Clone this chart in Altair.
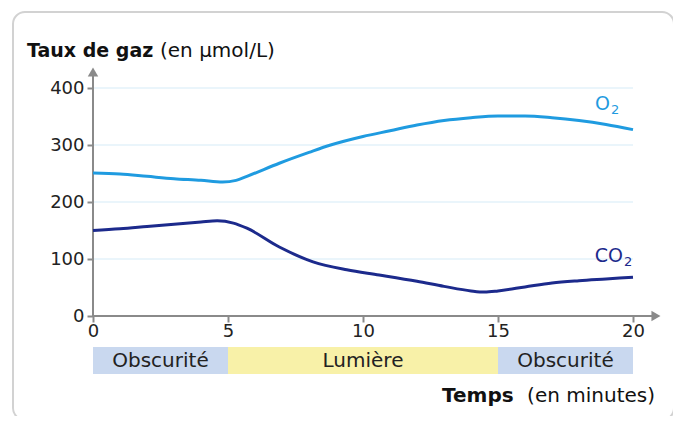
import altair as alt
import pandas as pd

# ---- data ----
o2_t = [0, 1, 2, 3, 4, 4.8, 5.3, 5.7, 6.9, 8, 8.8, 10, 11, 12, 13, 14, 15, 16, 17, 18, 19, 20]
o2_v = [251, 249, 245, 241, 238, 235, 238, 245, 268, 287, 300, 315, 325, 335, 343, 348, 351, 351, 348, 343, 336, 327]
co2_t = [0, 1, 2, 3, 4, 4.6, 5.2, 5.7, 6.9, 8.15, 9.4, 10.6, 12, 13, 14, 14.5, 15, 16, 17, 18, 19, 20]
co2_v = [150, 153, 157, 161, 165, 167, 163, 154, 121, 95, 81, 72, 61, 52, 44, 42, 44, 51, 58, 62, 65, 68]

periods = ["Obscurité", "Lumière", "Obscurité"]
period_start = [0, 5, 15]
period_end = [5, 15, 20]
period_color = ["#c9d8ef", "#f8f1a8", "#c9d8ef"]

x_ticks = [0, 5, 10, 15, 20]
y_ticks = [0, 50, 100, 150, 200, 250, 300, 350, 400]
grid_vals = [100, 200, 300, 400]

series_names = ["O", "CO"]
series_label_t = [19.15, 19.63]
series_label_v = [361, 95]

O2_COLOR = "#1f9be0"
CO2_COLOR = "#1c2a8c"
AXIS = "#8a8a8a"
FONT = "DejaVu Sans"
FS = 18

W, H = 540, 228
xs = alt.Scale(domain=[0, 20])
ys = alt.Scale(domain=[0, 400])

o2 = pd.DataFrame({"t": o2_t, "v": o2_v})
co2 = pd.DataFrame({"t": co2_t, "v": co2_v})
per = pd.DataFrame({"name": periods, "s": period_start, "e": period_end, "c": period_color})
per["m"] = (per["s"] + per["e"]) / 2
grid = pd.DataFrame({"g": grid_vals})

one = pd.DataFrame({"a": [0]})

frame = alt.Chart(one).mark_rect(
    fillOpacity=0, stroke="#d2d2d2", strokeWidth=2, cornerRadius=12
).encode(
    x=alt.value(-80), x2=alt.value(581), y=alt.value(-76), y2=alt.value(332)
)

grid_rules = alt.Chart(grid).mark_rule(color="#d6ebf8", strokeWidth=1.2).encode(
    y=alt.Y("g:Q", scale=ys), x=alt.value(0), x2=alt.value(W)
)

# axes (ticks and labels), no domain
base_axes = alt.Chart(one).mark_point(opacity=0).encode(
    x=alt.X("a:Q", scale=xs, axis=alt.Axis(
        values=x_ticks, title=None, domain=False, grid=False, tickColor=AXIS,
        tickWidth=2, tickSize=6, labelFontSize=FS, labelFont=FONT, labelColor="#222",
        labelPadding=0, labelFlush=False, zindex=1)),
    y=alt.Y("a:Q", scale=ys, axis=alt.Axis(
        values=y_ticks, title=None, domain=False, grid=False, tickColor=AXIS,
        tickWidth=2, tickSize=6, labelFontSize=FS, labelFont=FONT, labelColor="#222",
        labelPadding=3, zindex=1,
        labelExpr="datum.value % 100 == 0 ? datum.label : ''")),
)

axis_lines = pd.DataFrame({"x1": [0, 0], "y1": [0, 0], "x2": [0, 20.75], "y2": [425, 0]})
ax_rules = alt.Chart(axis_lines).mark_rule(color=AXIS, strokeWidth=2, clip=False).encode(
    x=alt.X("x1:Q", scale=xs), y=alt.Y("y1:Q", scale=ys),
    x2="x2:Q", y2="y2:Q"
)
arrow_up = alt.Chart(pd.DataFrame({"x": [0], "y": [428]})).mark_point(
    shape="triangle-up", filled=True, color=AXIS, size=110, opacity=1, clip=False
).encode(x=alt.X("x:Q", scale=xs), y=alt.Y("y:Q", scale=ys))
arrow_right = alt.Chart(pd.DataFrame({"x": [20.85], "y": [0]})).mark_point(
    shape="triangle-right", filled=True, color=AXIS, size=110, opacity=1, clip=False
).encode(x=alt.X("x:Q", scale=xs), y=alt.Y("y:Q", scale=ys))

line_o2 = alt.Chart(o2).mark_line(color=O2_COLOR, strokeWidth=3, interpolate="monotone").encode(
    x=alt.X("t:Q", scale=xs), y=alt.Y("v:Q", scale=ys)
)
line_co2 = alt.Chart(co2).mark_line(color=CO2_COLOR, strokeWidth=3, interpolate="monotone").encode(
    x=alt.X("t:Q", scale=xs), y=alt.Y("v:Q", scale=ys)
)

lab = pd.DataFrame({"t": series_label_t, "v": series_label_v, "txt": series_names,
                    "c": [O2_COLOR, CO2_COLOR]})
labels_main = alt.Chart(lab).mark_text(fontSize=19, font=FONT, align="right", baseline="alphabetic").encode(
    x=alt.X("t:Q", scale=xs), y=alt.Y("v:Q", scale=ys), text="txt:N",
    color=alt.Color("c:N", scale=None)
)
labels_sub = alt.Chart(lab).mark_text(text="2", fontSize=13, font=FONT, align="left",
                                      baseline="alphabetic", dx=1, dy=4).encode(
    x=alt.X("t:Q", scale=xs), y=alt.Y("v:Q", scale=ys),
    color=alt.Color("c:N", scale=None)
)

bands = alt.Chart(per).mark_rect().encode(
    x=alt.X("s:Q", scale=xs), x2="e:Q", y=alt.value(259), y2=alt.value(286),
    color=alt.Color("c:N", scale=None)
)
band_text = alt.Chart(per).mark_text(fontSize=20, font=FONT, color="#222", baseline="middle").encode(
    x=alt.X("m:Q", scale=xs), y=alt.value(272.5), text="name:N"
)

title_b = alt.Chart(one).mark_text(text="Taux de gaz", fontSize=19, font=FONT, fontWeight="bold",
                                   align="left", baseline="alphabetic", color="#111").encode(
    x=alt.value(-66), y=alt.value(-31))
title_r = alt.Chart(one).mark_text(text="(en µmol/L)", fontSize=20, font=FONT,
                                   align="left", baseline="alphabetic", color="#111").encode(
    x=alt.value(67), y=alt.value(-31))
xt_b = alt.Chart(one).mark_text(text="Temps", fontSize=20, font=FONT, fontWeight="bold",
                                align="left", baseline="alphabetic", color="#111").encode(
    x=alt.value(349), y=alt.value(314))
xt_r = alt.Chart(one).mark_text(text="(en minutes)", fontSize=20, font=FONT,
                                align="right", baseline="alphabetic", color="#111").encode(
    x=alt.value(562), y=alt.value(314))

chart = alt.layer(
    frame, grid_rules, base_axes, bands, band_text, ax_rules, arrow_up, arrow_right,
    line_o2, line_co2, labels_main, labels_sub, title_b, title_r, xt_b, xt_r
).properties(
    width=W, height=H,
    autosize=alt.AutoSizeParams(type="none"),
    padding={"left": 85, "top": 80, "right": 40, "bottom": 100},
    background="white",
).configure_view(stroke=None)

chart.save("out.html", embed_options={"renderer": "svg", "actions": False})
